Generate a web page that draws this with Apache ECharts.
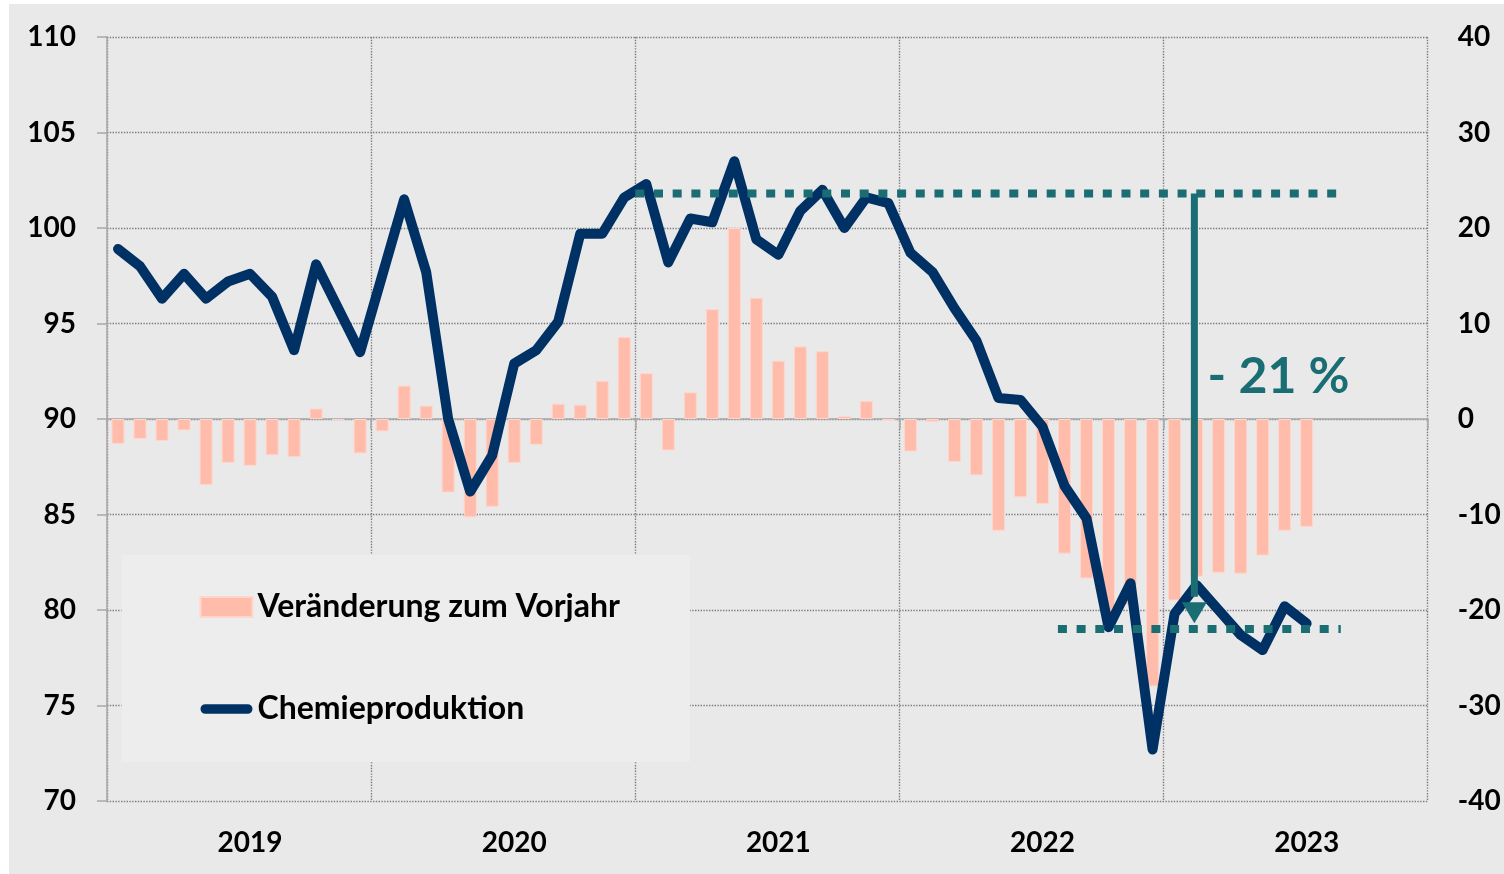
<!DOCTYPE html>
<html><head><meta charset="utf-8">
<script src="https://cdn.jsdelivr.net/npm/echarts@6/dist/echarts.min.js"></script>
<style>
html,body{margin:0;padding:0;background:#ffffff;width:1504px;height:874px;overflow:hidden}
#c{position:absolute;left:9px;top:4px;width:1495px;height:870px;background:#e9e9e9}
</style></head><body><div id="c"></div>
<script>
// ---- data ----
const years = ['2019', '2020', '2021', '2022', '2023'];
const monthNames = ['01','02','03','04','05','06','07','08','09','10','11','12'];
// Chemieproduktion (Index, linke Achse), Jan 2019 - Jul 2023
const production = [
  98.9, 98.0, 96.3, 97.6, 96.3, 97.2, 97.6, 96.4, 93.6, 98.1, 95.8, 93.5,
  97.5, 101.5, 97.7, 90.0, 86.2, 88.1, 92.9, 93.6, 95.1, 99.7, 99.7, 101.6,
  102.3, 98.2, 100.5, 100.3, 103.5, 99.4, 98.6, 100.9, 102.0, 100.0, 101.6, 101.3,
  98.7, 97.7, 95.8, 94.1, 91.1, 91.0, 89.6, 86.5, 84.8, 79.1, 81.4, 72.7,
  79.8, 81.3, 80.0, 78.7, 77.9, 80.2, 79.3
];
// Veränderung zum Vorjahr in % (rechte Achse)
const yoyChange = [
  -2.6, -2.1, -2.3, -1.2, -6.9, -4.6, -4.9, -3.8, -4.0, 1.1, -0.1, -3.6,
  -1.3, 3.5, 1.4, -7.7, -10.3, -9.2, -4.6, -2.7, 1.6, 1.5, 4.0, 8.6,
  4.8, -3.3, 2.8, 11.5, 20.0, 12.7, 6.1, 7.6, 7.1, 0.3, 1.9, -0.2,
  -3.4, -0.3, -4.5, -5.9, -11.7, -8.2, -8.9, -14.1, -16.7, -20.5, -19.5, -28.0,
  -19.0, -16.5, -16.1, -16.2, -14.3, -11.7, -11.3
];
const leftAxis = { min: 70, max: 110, step: 5 };
const rightAxis = { min: -40, max: 40, step: 10 };
// annotation (in month units on a 0..60 scale, index values on left axis)
const peakLevel = 101.8;
const troughLevel = 79.0;
const peakSpan = [24.0, 56.25];
const troughSpan = [43.2, 56.05];
const arrowX = 49.4;
const arrowShaftEnd = 80.7;
const arrowHeadCenter = 79.85;
const dropLabel = '- 21 %';
const dropLabelPos = [50.0, 92.2];

const categories = [];
years.forEach(y => monthNames.forEach(m => categories.push(y + '-' + m)));
const totalMonths = categories.length;

const teal = '#1a6d73';
const navy = '#003164';
const fontFam = 'Lato';
const gridGray = '#7c7c7c';
const axisGray = '#a8a8a8';

const chart = echarts.init(document.getElementById('c'), null, { renderer: 'canvas' });
chart.setOption({
  animation: false,
  backgroundColor: '#e9e9e9',
  grid: { left: 98, right: 76.3, top: 33, bottom: 73, containLabel: false },
  legend: {
    orient: 'vertical', left: 112.5, top: 551,
    padding: [36, 70, 37, 78], itemGap: 70, itemWidth: 52, itemHeight: 20,
    backgroundColor: '#ededed', selectedMode: false,
    textStyle: { fontFamily: fontFam, fontWeight: 'bold', fontSize: 32, color: '#000', lineHeight: 32 },
    data: [
      { name: 'Veränderung zum Vorjahr', icon: 'rect' },
      { name: 'Chemieproduktion', icon: 'path://M5,0 L49,0 A5,5 0 0 1 49,10 L5,10 A5,5 0 0 1 5,0 Z' }
    ]
  },
  xAxis: [
    {
      type: 'category', data: categories, boundaryGap: true,
      axisLine: { show: true, lineStyle: { color: axisGray, width: 1.5 } },
      axisTick: { show: true, length: 10, interval: (i) => i % 12 === 0, lineStyle: { color: axisGray, width: 1.5 } },
      splitLine: { show: true, interval: (i) => i % 12 === 0, lineStyle: { color: gridGray, type: 'dotted', width: 1.4 } },
      axisLabel: {
        interval: (i) => i % 12 === 6, margin: 28,
        formatter: (v) => v.slice(0, 4),
        fontFamily: fontFam, fontWeight: 'bold', fontSize: 28, color: '#000'
      }
    },
    { type: 'value', min: 0, max: totalMonths, show: false }
  ],
  yAxis: [
    {
      type: 'value', position: 'left', min: leftAxis.min, max: leftAxis.max, interval: leftAxis.step,
      axisLine: { show: true, lineStyle: { color: axisGray, width: 1.5 } },
      axisTick: { show: true, length: 10, lineStyle: { color: axisGray, width: 1.5 } },
      splitLine: { show: true, lineStyle: { color: gridGray, type: 'dotted', width: 1.4 } },
      axisLabel: { margin: 31, fontFamily: fontFam, fontWeight: 'bold', fontSize: 28, color: '#000' }
    },
    {
      type: 'value', position: 'right', min: rightAxis.min, max: rightAxis.max, interval: rightAxis.step,
      axisLine: { show: false }, axisTick: { show: false }, splitLine: { show: false },
      axisLabel: { margin: 30, fontFamily: fontFam, fontWeight: 'bold', fontSize: 28, color: '#000' }
    }
  ],
  series: [
    {
      name: 'Veränderung zum Vorjahr', type: 'bar', xAxisIndex: 0, yAxisIndex: 1,
      data: yoyChange, barWidth: 13, z: 2,
      itemStyle: { color: '#ffbcab', borderColor: '#ffd6cc', borderWidth: 1 }
    },
    {
      name: 'Chemieproduktion', type: 'line', xAxisIndex: 0, yAxisIndex: 0,
      data: production, symbol: 'none', z: 3,
      itemStyle: { color: navy },
      lineStyle: { color: navy, width: 10, cap: 'round', join: 'round' }
    },
    {
      type: 'line', xAxisIndex: 1, yAxisIndex: 0, symbol: 'none', silent: true, z: 6,
      data: [[peakSpan[0], peakLevel], [peakSpan[1], peakLevel]],
      lineStyle: { color: teal, width: 8, type: [9, 9.7], cap: 'butt', opacity: 1 }
    },
    {
      type: 'line', xAxisIndex: 1, yAxisIndex: 0, symbol: 'none', silent: true, z: 6,
      data: [[troughSpan[0], troughLevel], [troughSpan[1], troughLevel]],
      lineStyle: { color: teal, width: 8, type: [9, 9.7], cap: 'butt', opacity: 1 }
    },
    {
      type: 'line', xAxisIndex: 1, yAxisIndex: 0, symbol: 'none', silent: true, z: 7,
      data: [[arrowX, peakLevel], [arrowX, arrowShaftEnd]],
      lineStyle: { color: teal, width: 7, cap: 'butt', opacity: 1 }
    },
    {
      type: 'scatter', xAxisIndex: 1, yAxisIndex: 0, silent: true, z: 7,
      data: [[arrowX, arrowHeadCenter]], symbol: 'triangle', symbolRotate: 180, symbolSize: [25, 21],
      itemStyle: { color: teal, opacity: 1 }
    },
    {
      type: 'scatter', xAxisIndex: 1, yAxisIndex: 0, silent: true, z: 7,
      data: [dropLabelPos], symbolSize: 0,
      itemStyle: { color: teal, opacity: 1 },
      label: {
        show: true, position: 'right', distance: 0, formatter: dropLabel, opacity: 1,
        fontFamily: fontFam, fontWeight: 'bold', fontSize: 50, color: teal
      }
    }
  ]
});
</script></body></html>
